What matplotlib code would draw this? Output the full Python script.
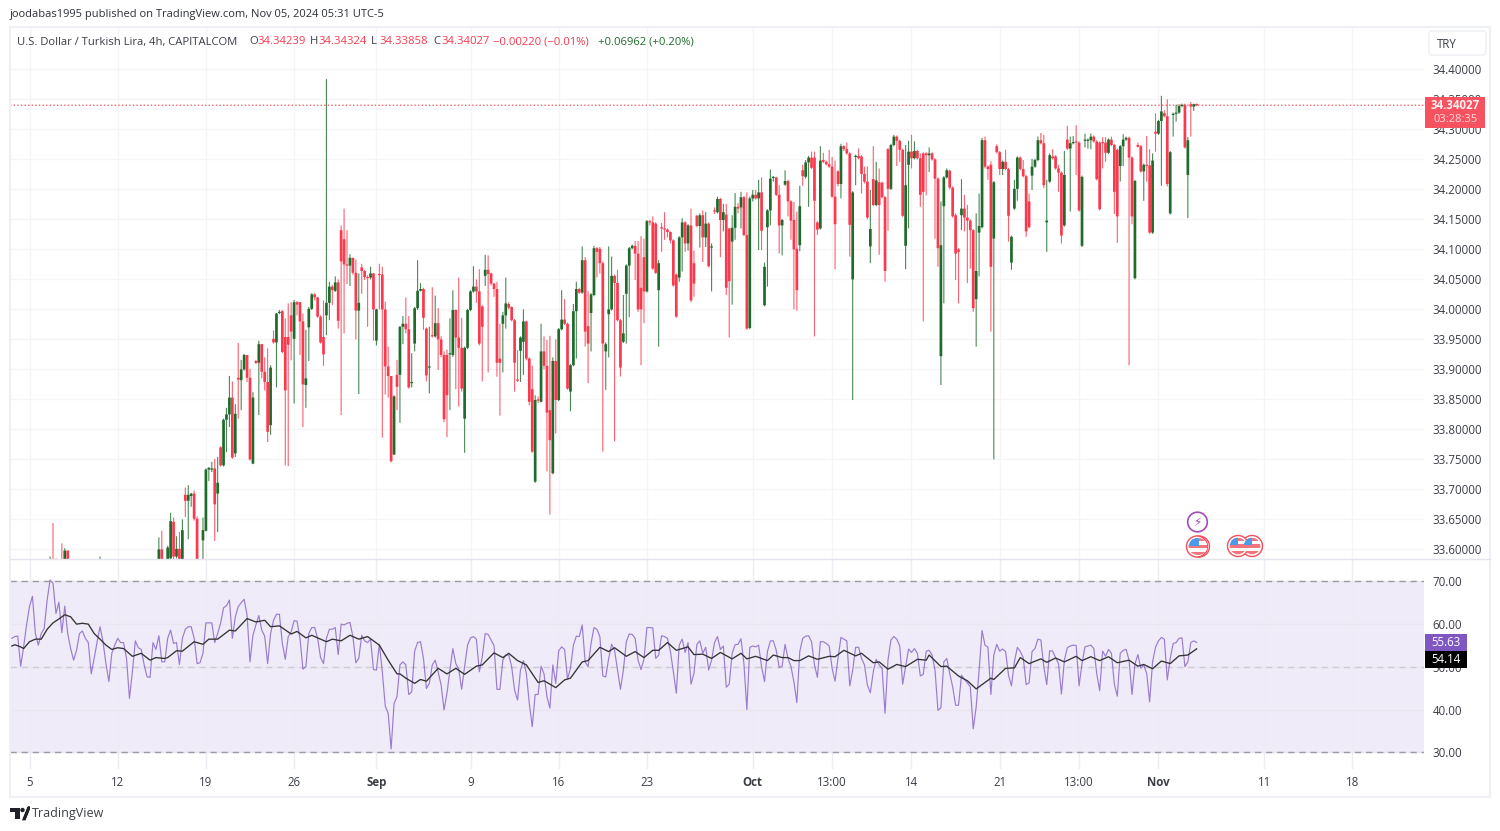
import numpy as np
import matplotlib
matplotlib.use("Agg")
import matplotlib.pyplot as plt
from matplotlib.patches import Circle, Rectangle, FancyBboxPatch, Polygon

plt.rcParams['font.family'] = ['Open Sans', 'DejaVu Sans']

W, H = 1500, 831
UP, DOWN = '#1E6B2B', '#F9394E'
RSI_C, MA_C = '#7E57C2', '#333333'

# wick-only bars at the very bottom of the price pane (bodies under the pane)
early_idx = [13, 14, 15, 17, 18, 19, 30]
early_open = [33.57, 33.575, 33.575, 33.575, 33.575, 33.598, 33.57]
early_close = [33.575, 33.57, 33.57, 33.57, 33.598, 33.57, 33.575]
early_high = [33.588, 33.644, 33.585, 33.610, 33.602, 33.598, 33.588]
early_low = [33.56, 33.56, 33.56, 33.56, 33.56, 33.56, 33.56]

first_bar = 50
opens = [
33.57,33.6,33.57,33.58,33.585,33.646,33.588,33.601,33.58,33.691,
33.681,33.689,33.693,33.651,33.57,33.615,33.631,33.733,33.733,33.735,
33.693,33.77,33.74,33.816,33.825,33.853,33.76,33.886,33.882,33.9,
33.924,33.886,33.743,33.914,33.911,33.942,33.896,33.879,33.807,33.951,
33.945,33.994,33.997,33.954,33.954,33.99,33.951,34.012,34.012,33.98,
33.874,33.97,34.001,34.025,34.02,33.988,33.954,33.99,34.011,34.038,
34.031,34.045,34.132,34.117,34.075,34.073,34.086,34.061,33.998,34.07,
34.064,34.054,34.053,34.06,33.948,34.058,34.058,34.0,33.905,33.889,
33.758,33.891,33.891,33.971,33.976,33.967,33.877,33.943,34.002,34.031,
34.034,33.968,33.903,33.956,33.955,33.977,33.95,33.924,33.924,33.925,
33.924,33.999,33.953,33.936,33.818,33.936,33.999,34.03,34.038,34.03,
34.005,34.056,34.066,34.06,34.043,34.034,33.918,33.976,33.99,34.009,
34.004,33.982,33.882,33.931,33.946,33.98,33.918,33.867,33.713,33.849,
33.846,33.93,33.906,33.832,33.727,33.914,33.849,33.967,33.983,33.976,
33.863,33.907,33.997,34.034,34.028,34.082,33.972,33.994,34.024,34.102,
34.101,34.077,33.93,33.992,34.0,34.056,34.044,33.982,33.946,34.026,
34.073,34.102,34.106,34.093,34.036,34.087,34.03,34.147,34.145,34.143,
34.032,34.137,34.135,34.133,34.129,34.115,34.058,34.053,34.12,34.145,
34.11,34.14,34.077,34.156,34.139,34.157,34.12,34.143,34.103,34.164,
34.162,34.184,34.149,34.158,34.135,34.113,34.136,34.171,34.17,34.187,
34.124,33.969,34.185,34.191,34.185,34.195,34.007,34.137,34.165,34.219,
34.22,34.191,34.14,34.208,34.214,34.18,34.149,34.101,34.107,34.232,
34.221,34.245,34.253,34.253,34.145,34.135,34.249,34.246,34.242,34.238,
34.188,34.23,34.209,34.272,34.267,34.26,34.05,34.254,34.256,34.255,
34.226,34.213,34.105,34.217,34.174,34.212,34.211,34.187,34.267,34.201,
34.274,34.288,34.281,34.266,34.106,34.241,34.263,34.252,34.264,34.252,
34.26,34.26,34.257,34.26,34.25,34.218,33.922,34.172,34.22,34.231,
34.203,34.157,34.1,34.157,34.168,34.153,34.148,34.132,34.017,34.128,
34.137,34.282,34.238,34.241,34.118,34.272,34.262,34.234,34.246,34.234,
34.078,34.168,34.201,34.253,34.234,34.222,34.18,34.223,34.238,34.249,
34.282,34.277,34.145,34.213,34.255,34.255,34.235,34.228,34.14,34.283,
34.268,34.277,34.279,34.278,34.106,34.281,34.281,34.282,34.288,34.28,
34.278,34.278,34.278,34.261,34.283,34.274,34.266,34.239,34.272,34.283,
34.286,34.253,34.052,34.274,34.272,34.23,34.24,34.24,34.128,34.296,
34.293,34.314,34.327,34.322,34.16,34.324,34.326,34.328,34.339,34.341,
34.224,34.342,34.338,34.34239]
highs = [
33.62,33.631,33.58,33.606,33.661,33.653,33.622,33.629,33.65,33.703,
33.707,33.694,33.698,33.655,33.575,33.653,33.735,33.737,33.746,33.751,
33.754,33.772,33.818,33.836,33.889,33.88,33.842,33.944,33.916,33.926,
33.924,33.901,33.862,33.916,33.948,33.942,33.92,33.935,33.907,33.965,
33.994,33.999,33.999,33.985,34.01,34.012,34.016,34.014,34.012,33.993,
33.966,34.004,34.027,34.027,34.021,33.99,34.015,34.384,34.046,34.041,
34.055,34.05,34.14,34.168,34.132,34.092,34.086,34.083,34.06,34.076,
34.066,34.057,34.071,34.061,34.001,34.076,34.071,34.013,33.938,33.889,
33.857,33.916,33.972,33.989,34.02,33.989,33.927,34.004,34.082,34.044,
34.036,33.97,33.971,34.037,34.023,34.002,33.955,33.93,33.933,33.985,
34.032,34.0,34.053,33.986,33.938,34.001,34.032,34.072,34.05,34.067,
34.007,34.091,34.09,34.061,34.044,34.046,33.976,33.996,34.053,34.012,
34.005,33.984,33.932,33.955,34.0,33.981,33.92,33.906,33.857,33.855,
33.976,33.955,33.949,33.956,33.92,33.95,33.969,34.032,34.017,33.978,
33.909,34.009,34.046,34.036,34.105,34.087,34.03,34.027,34.106,34.104,
34.104,34.08,33.945,34.105,34.088,34.058,34.066,33.984,34.024,34.075,
34.104,34.108,34.114,34.114,34.122,34.118,34.149,34.149,34.155,34.145,
34.082,34.144,34.162,34.135,34.13,34.117,34.06,34.122,34.152,34.147,
34.142,34.168,34.098,34.158,34.16,34.165,34.162,34.145,34.11,34.17,
34.188,34.186,34.176,34.176,34.135,34.157,34.194,34.177,34.196,34.189,
34.195,34.188,34.199,34.199,34.216,34.22,34.078,34.167,34.233,34.222,
34.221,34.207,34.151,34.232,34.216,34.182,34.179,34.163,34.206,34.241,
34.249,34.256,34.263,34.263,34.147,34.272,34.261,34.248,34.266,34.254,
34.248,34.232,34.276,34.274,34.278,34.262,34.197,34.258,34.268,34.257,
34.238,34.238,34.199,34.272,34.246,34.235,34.213,34.189,34.269,34.276,
34.291,34.29,34.283,34.268,34.274,34.281,34.291,34.28,34.266,34.26,
34.262,34.262,34.27,34.262,34.252,34.22,34.18,34.222,34.235,34.233,
34.205,34.16,34.102,34.217,34.191,34.174,34.15,34.134,34.16,34.193,
34.286,34.288,34.24,34.247,34.214,34.275,34.264,34.248,34.266,34.236,
34.123,34.216,34.255,34.255,34.249,34.224,34.193,34.251,34.251,34.288,
34.294,34.291,34.216,34.26,34.267,34.257,34.241,34.23,34.264,34.306,
34.288,34.289,34.307,34.28,34.223,34.293,34.285,34.293,34.29,34.282,
34.28,34.287,34.287,34.285,34.288,34.276,34.268,34.274,34.292,34.288,
34.288,34.255,34.216,34.278,34.274,34.243,34.289,34.267,34.26,34.327,
34.316,34.356,34.332,34.35,34.264,34.328,34.341,34.342,34.343,34.343,
34.287,34.346,34.343,34.34324]
lows = [
33.56,33.56,33.55,33.56,33.58,33.58,33.585,33.57,33.57,33.654,
33.617,33.671,33.648,33.56,33.55,33.58,33.63,33.714,33.729,33.614,
33.629,33.738,33.738,33.762,33.804,33.751,33.754,33.818,33.832,33.898,
33.879,33.748,33.742,33.909,33.824,33.885,33.865,33.779,33.791,33.943,
33.87,33.992,33.927,33.74,33.739,33.915,33.843,33.99,33.924,33.804,
33.836,33.914,33.999,34.015,33.986,33.943,33.906,33.957,33.982,34.007,
34.029,33.968,33.824,33.96,34.042,34.039,34.058,33.95,33.859,34.026,
34.049,33.971,34.05,33.948,33.94,34.0,33.786,33.858,33.853,33.745,
33.757,33.832,33.811,33.942,33.96,33.868,33.87,33.93,33.999,34.03,
33.966,33.88,33.86,33.953,33.953,33.899,33.92,33.812,33.787,33.832,
33.921,33.867,33.838,33.863,33.761,33.934,33.997,34.028,34.011,33.94,
33.88,34.039,33.895,34.04,34.021,33.888,33.823,33.895,33.968,34.0,
33.98,33.863,33.879,33.879,33.891,33.915,33.84,33.761,33.711,33.844,
33.845,33.9,33.73,33.658,33.725,33.793,33.847,33.965,33.974,33.866,
33.83,33.905,33.918,34.026,34.026,33.938,33.877,33.93,34.022,34.053,
34.06,33.763,33.866,33.92,33.998,33.78,33.98,33.888,33.944,33.943,
33.987,34.1,34.049,33.996,33.907,33.977,34.028,34.14,34.066,34.059,
33.938,34.096,34.116,34.12,34.11,34.038,33.986,34.046,34.063,34.096,
34.098,34.012,34.021,34.137,34.103,34.079,34.104,34.07,34.03,34.159,
34.16,34.087,34.13,34.024,33.953,34.008,34.116,34.16,34.135,34.122,
33.966,33.967,34.18,34.183,34.099,34.099,34.005,34.038,34.14,34.213,
34.189,34.093,34.09,34.206,34.155,34.116,34.0,33.998,34.097,34.206,
34.218,34.171,34.234,33.955,34.124,34.133,34.244,34.24,34.236,34.186,
34.067,34.205,34.185,34.264,34.258,34.088,33.849,34.207,34.25,34.193,
34.21,34.15,34.077,34.172,34.172,34.091,34.185,34.046,34.131,34.199,
34.272,34.239,34.246,34.154,34.067,34.135,34.235,34.25,34.25,34.171,
33.98,34.19,34.229,34.248,34.118,34.071,33.874,34.01,34.218,34.2,
34.153,34.049,34.01,34.132,34.13,34.044,34.068,33.996,33.938,34.055,
34.135,34.235,34.216,33.963,33.75,34.26,34.224,34.224,34.232,34.113,
34.066,34.166,34.181,34.232,34.22,34.121,34.135,34.199,34.236,34.247,
34.275,34.202,34.096,34.211,34.25,34.233,34.196,34.11,34.138,34.266,
34.163,34.275,34.224,34.163,34.104,34.27,34.268,34.267,34.278,34.215,
34.165,34.235,34.246,34.259,34.272,34.159,34.111,34.213,34.239,34.281,
33.907,34.142,34.05,34.27,34.228,34.181,34.213,34.126,34.126,34.263,
34.291,34.206,34.32,34.205,34.158,34.288,34.313,34.326,34.337,34.268,
34.152,34.288,34.331,34.33858]
closes = [
33.6,33.57,33.56,33.603,33.647,33.588,33.601,33.58,33.632,33.681,
33.691,33.693,33.651,33.57,33.56,33.632,33.733,33.736,33.734,33.675,
33.711,33.74,33.816,33.825,33.853,33.753,33.826,33.883,33.9,33.924,
33.886,33.75,33.853,33.911,33.942,33.896,33.879,33.796,33.903,33.945,
33.993,33.996,33.929,33.865,33.941,33.963,34.012,34.008,33.98,33.875,
33.885,34.001,34.025,34.02,33.988,33.945,33.925,34.011,34.038,34.032,
34.045,33.981,34.08,34.075,34.073,34.086,34.061,33.998,34.011,34.064,
34.054,34.052,34.06,34.0,34.0,34.057,34.0,33.905,33.889,33.747,
33.855,33.871,33.971,33.976,33.967,33.87,33.878,34.002,34.031,34.034,
33.986,33.89,33.904,33.955,33.977,33.95,33.924,33.817,33.857,33.926,
33.999,33.953,33.936,33.868,33.936,33.999,34.03,34.038,34.03,33.943,
33.971,34.066,34.059,34.043,34.034,33.911,33.911,33.99,34.01,34.003,
33.982,33.911,33.881,33.953,33.98,33.918,33.846,33.763,33.849,33.848,
33.93,33.906,33.828,33.782,33.914,33.849,33.967,33.983,33.976,33.868,
33.907,33.997,34.034,34.028,34.082,33.963,33.943,34.025,34.102,34.096,
34.077,33.943,33.942,34.0,34.056,34.044,33.982,33.903,33.96,34.073,
34.102,34.106,34.093,34.0,34.0,34.03,34.147,34.145,34.068,34.061,
34.077,34.135,34.133,34.129,34.115,34.04,33.988,34.12,34.145,34.11,
34.14,34.015,34.043,34.139,34.157,34.12,34.143,34.072,34.104,34.163,
34.184,34.149,34.162,34.036,34.047,34.136,34.171,34.168,34.187,34.124,
33.968,34.185,34.191,34.185,34.195,34.131,34.071,34.165,34.218,34.221,
34.191,34.14,34.149,34.214,34.18,34.148,34.1,34.032,34.172,34.222,
34.245,34.253,34.236,34.181,34.133,34.248,34.246,34.242,34.238,34.188,
34.142,34.209,34.272,34.267,34.26,34.141,34.195,34.256,34.252,34.226,
34.213,34.153,34.134,34.174,34.215,34.174,34.187,34.064,34.201,34.274,
34.288,34.281,34.266,34.156,34.207,34.263,34.252,34.264,34.252,34.191,
34.196,34.257,34.26,34.25,34.218,34.102,34.107,34.22,34.232,34.203,
34.155,34.093,34.096,34.168,34.153,34.148,34.132,34.002,34.064,34.139,
34.282,34.238,34.234,34.071,34.212,34.262,34.234,34.246,34.234,34.156,
34.121,34.201,34.253,34.234,34.222,34.13,34.137,34.238,34.249,34.282,
34.277,34.207,34.148,34.257,34.252,34.235,34.228,34.123,34.224,34.268,
34.277,34.279,34.278,34.165,34.221,34.283,34.283,34.288,34.28,34.217,
34.167,34.277,34.261,34.283,34.274,34.196,34.155,34.272,34.283,34.286,
34.253,34.155,34.214,34.271,34.23,34.241,34.239,34.128,34.248,34.293,
34.314,34.33,34.322,34.209,34.262,34.326,34.327,34.339,34.341,34.27,
34.282,34.338,34.342,34.34027]

rsi = [
56.6,57.0,57.1,50.1,54.6,59.7,64.0,66.4,57.7,55.0,
57.7,58.9,65.5,70.2,69.4,62.4,65.0,57.9,64.1,57.7,
54.2,51.5,53.8,57.7,58.3,56.6,55.6,48.3,51.9,55.8,
59.3,55.8,50.7,46.5,53.1,55.0,56.6,55.6,55.6,51.9,
42.6,48.8,56.0,54.4,54.0,50.4,47.6,47.5,55.6,54.0,
57.2,51.1,51.1,56.6,58.5,55.4,55.6,50.5,56.6,58.7,
59.3,59.3,56.6,50.7,50.9,53.1,60.2,60.2,60.2,55.6,
57.7,60.1,63.7,64.2,65.5,56.6,61.6,64.0,64.9,65.7,
62.0,51.1,57.3,59.7,61.9,58.5,57.1,50.7,57.7,60.8,
62.2,62.2,55.4,51.7,57.0,58.1,60.7,60.6,56.6,49.4,
50.0,57.7,59.1,59.1,56.6,52.1,50.7,56.6,58.7,58.7,
59.1,52.8,59.9,59.7,60.1,60.3,57.0,50.9,51.9,57.3,
56.0,55.6,56.4,49.3,49.2,55.2,48.8,40.8,39.1,30.8,
41.4,43.0,50.4,51.1,50.4,43.5,44.1,53.6,55.6,55.8,
51.9,44.9,46.1,50.4,51.5,48.8,45.7,39.9,43.8,49.2,
54.2,50.7,49.4,44.7,50.0,55.0,56.7,57.0,56.4,48.8,
52.3,57.7,57.5,56.2,54.9,44.7,44.7,51.5,52.7,52.7,
50.0,44.5,42.2,49.2,51.4,48.4,41.4,36.0,43.5,43.5,
50.1,48.3,43.0,40.3,50.4,46.1,53.7,54.6,54.0,47.1,
49.6,55.0,57.1,57.0,59.7,51.1,50.0,55.4,59.1,58.7,
57.0,47.8,47.6,51.9,55.2,53.8,49.2,44.7,49.2,55.8,
57.6,57.5,56.6,51.5,49.3,51.7,59.1,59.1,59.0,51.9,
52.7,57.2,57.0,56.6,53.5,48.8,43.8,55.0,56.4,53.3,
55.6,45.9,48.4,55.2,56.0,53.1,54.5,49.2,51.5,55.6,
57.0,54.0,54.8,45.2,45.9,53.1,55.1,55.2,56.5,50.7,
40.0,54.5,54.8,54.6,55.0,50.0,46.5,53.5,56.0,56.0,
53.8,49.8,50.1,55.2,51.9,50.0,46.5,41.6,53.5,56.6,
57.1,57.2,55.8,50.4,47.5,55.8,55.8,55.4,54.8,49.6,
46.6,51.9,56.8,56.4,56.0,45.5,49.2,54.5,54.5,51.9,
50.4,45.7,43.9,48.8,51.7,50.4,49.6,39.1,51.5,56.2,
57.0,56.4,54.8,45.9,50.0,54.1,53.3,54.2,53.1,47.8,
48.2,53.6,53.8,52.7,49.2,39.8,40.4,51.1,51.9,48.4,
45.3,41.0,41.0,48.0,47.0,46.2,45.3,35.5,40.6,49.2,
58.4,55.0,54.5,43.5,52.7,55.2,53.6,54.1,53.5,48.0,
45.5,51.1,54.5,53.5,52.1,45.8,46.2,53.5,54.2,56.4,
56.2,50.0,45.8,53.7,53.6,52.1,50.7,43.6,51.5,54.4,
54.8,55.0,54.9,45.5,50.7,54.6,54.8,55.0,54.2,48.4,
44.4,53.6,52.4,54.0,53.1,45.9,43.1,53.1,53.8,54.0,
51.5,43.5,50.6,52.8,49.6,50.4,48.4,41.8,51.1,54.5,
56.0,56.8,56.4,46.9,51.9,55.4,55.6,56.6,56.7,50.0,
51.1,55.6,56.0,55.63]

ma_idx = [
0,1,3,4,6,8,10,12,14,16,18,20,22,24,26,28,30,32,34,36,38,41,44,47,49,52,53,56,58,62,
65,67,70,74,76,80,83,86,88,91,95,97,100,102,107,109,112,115,118,121,125,128,131,132,
134,137,139,141,145,148,151,154,158,160,164,167,169,172,175,179,181,185,188,190,194,196,200,203,205,
209,212,215,218,220,223,226,230,232,235,238,241,245,248,250,253,257,259,262,264,266,268,
271,274,278,280,283,287,289,293,295,298,301,304,308,311,312,316,318,322,325,328,333,334,338,341,343,
346,350,352,355,358,362,364,367,370,373,376,380,383,385,388,391,394,397,400,403]
ma_val = [
54.8,55.1,54.6,54.2,55.8,56.4,56.4,58.7,60.2,61.1,62.1,61.6,59.9,60.1,59.9,57.7,56.4,55.0,54.0,54.4,54.2,52.4,53.1,51.5,52.1,51.9,52.1,53.7,53.6,55.8,
55.2,56.4,56.4,58.5,58.3,61.2,60.4,60.8,59.3,59.5,57.6,58.2,56.7,57.3,55.8,56.4,56.0,57.3,56.4,57.0,55.0,51.5,48.3,48.3,
47.3,46.1,47.0,46.6,49.6,48.3,49.6,48.2,50.1,50.4,53.2,52.1,53.1,51.4,50.4,46.3,46.7,45.1,46.9,47.3,51.1,51.4,54.5,53.5,54.4,
52.4,53.5,52.1,53.8,53.8,55.6,53.8,54.6,52.8,52.9,51.9,53.3,51.8,53.1,51.8,52.4,51.4,52.7,52.1,52.1,51.4,51.4,
52.5,51.7,52.4,52.3,53.8,52.5,53.1,50.9,51.1,49.4,50.5,50.0,51.7,51.5,52.7,50.0,50.1,47.8,46.7,44.8,47.3,47.0,49.6,49.7,52.1,
50.7,51.8,51.0,52.0,51.1,52.4,51.4,52.3,51.4,52.3,50.9,51.5,50.1,50.5,49.5,51.3,50.7,52.5,52.7,54.14]

last_price = 34.34027
price_ticks = [33.60,33.65,33.70,33.75,33.80,33.85,33.90,33.95,34.00,34.05,34.10,34.15,
               34.20,34.25,34.30,34.35,34.40]
rsi_ticks = [30, 40, 50, 60, 70]
time_idx = [6, 36, 66, 96, 124, 156, 186, 216, 252, 279, 306, 336, 363, 390, 426, 456]
time_labels = ['5','12','19','26','Sep','9','16','23','Oct','13:00','14','21','13:00','Nov','11','18']
month_labels = {'Sep', 'Oct', 'Nov'}

assert len(opens) == len(highs) == len(lows) == len(closes) == 354
assert len(rsi) == 404 and len(ma_idx) == len(ma_val)

fig = plt.figure(figsize=(W/100, H/100), dpi=100, facecolor='white')

def px_axes(x0, y0, x1, y1, **kw):
    return fig.add_axes([x0/W, 1-y1/H, (x1-x0)/W, (y1-y0)/H], **kw)

XLIM = (-0.633, 480.32)
GRID = '#F5F5F8'
TXT = '#3B3E47'

ax = px_axes(10, 27, 1424, 558.5)
ar = px_axes(10, 558.5, 1424, 769)

def candles(axis, idx, o, h, l, c):
    idx = np.asarray(idx, float); o = np.asarray(o); h = np.asarray(h)
    l = np.asarray(l); c = np.asarray(c)
    up = c >= o
    cols = np.where(up, UP, DOWN)
    wicks = axis.vlines(idx, l, h, colors=cols, linewidth=0.8, alpha=0.8, zorder=3)
    wicks.set_snap(False)
    axis.bar(idx, np.maximum(np.abs(c-o), 0.002), bottom=np.minimum(o, c), width=0.92,
             color=cols, linewidth=0, zorder=4, snap=False)

bars = np.arange(first_bar, first_bar+len(opens))
candles(ax, early_idx, early_open, early_high, early_low, early_close)
candles(ax, bars, opens, highs, lows, closes)
dot = ax.axhline(last_price, color='#F9606D', lw=1.0, ls=(0, (1, 1.6)), zorder=2)
dot.set_snap(False)

ax.set_xlim(*XLIM)
ax.set_ylim(33.5848, 34.4707)
ax.set_yticks(price_ticks)
ax.set_yticklabels([f'{t:.5f}' for t in price_ticks])
ax.set_xticks(time_idx)
ax.tick_params(axis='x', length=0, labelbottom=False)
ax.yaxis.tick_right()
ax.tick_params(axis='y', length=0, pad=6, labelsize=8.3, labelcolor=TXT)
ax.grid(True, color=GRID, lw=1.0, zorder=0)
ax.set_axisbelow(True)
for s in ax.spines.values():
    s.set_visible(False)

ar.axhspan(30, 70, color='#EFEBF8', lw=0, zorder=0)
ar.plot(np.arange(len(rsi)), rsi, color=RSI_C, lw=0.85, alpha=0.75, zorder=4)
ar.plot(ma_idx, ma_val, color=MA_C, lw=0.95, zorder=5)
for lv, col in ((70, '#9A9BA3'), (30, '#9A9BA3'), (50, '#CDCBD3')):
    ar.axhline(lv, color=col, lw=1.0, ls=(0, (4.5, 3.5)), zorder=3)
ar.set_xlim(*XLIM)
ar.set_ylim(26.13, 75.2)
ar.set_yticks(rsi_ticks)
ar.set_yticklabels([f'{t:.2f}' for t in rsi_ticks])
ar.yaxis.tick_right()
ar.tick_params(axis='y', length=0, pad=6, labelsize=8.3, labelcolor=TXT)
ar.set_xticks(time_idx)
ar.set_xticklabels(time_labels)
ar.tick_params(axis='x', length=0, pad=5, labelsize=8.3, labelcolor=TXT)
for lab in ar.get_xticklabels():
    if lab.get_text() in month_labels:
        lab.set_fontweight('bold')
ar.grid(True, axis='x', color='#EDEBF3', lw=1.0, zorder=1)
ar.grid(True, axis='y', color='#E9E6F1', lw=1.0, zorder=1)
ar.set_axisbelow(True)
for s in ar.spines.values():
    s.set_visible(False)

# overlay in figure pixels for the TradingView chrome
ov = fig.add_axes([0, 0, 1, 1], facecolor='none', zorder=10)
ov.set_xlim(0, W); ov.set_ylim(H, 0); ov.axis('off')

FR = '#EEF0F6'
ov.add_patch(Rectangle((10, 27), 1480, 770, fill=False, ec=FR, lw=1.5))
ov.plot([10, 1490], [558.5, 558.5], color='#E3E5EC', lw=1.0)

ov.text(10, 15, 'joodabas1995 published on TradingView.com, Nov 05, 2024 05:31 UTC-5',
        fontsize=8.05, color='#2E3038', va='center')

hdr = [(17, 'U.S. Dollar / Turkish Lira, 4h, CAPITALCOM', TXT), (249, 'O', TXT), (257, '34.34239', DOWN),
       (310, 'H', TXT), (318, '34.34324', DOWN), (371, 'L', TXT), (379, '34.33858', DOWN),
       (433, 'C', TXT), (441, '34.34027', DOWN), (493, '−0.00220 (−0.01%)', DOWN),
       (598, '+0.06962 (+0.20%)', UP)]
for x, s, c in hdr:
    ov.text(x, 42, s, fontsize=8.15, color=c, va='center')

ov.add_patch(FancyBboxPatch((1430, 32), 55, 22, boxstyle='round,pad=1,rounding_size=3',
                            fc='white', ec='#ECEEF3', lw=1))
ov.text(1437, 44.5, 'TRY', fontsize=8.3, color=TXT, va='center')

ov.add_patch(Rectangle((1425, 97), 60, 30.5, fc='#F7525F', ec='none'))
ov.text(1455.5, 105.5, '34.34027', fontsize=8.3, fontweight='bold', color='#FFF1F2', ha='center', va='center')
ov.text(1455.5, 119, '03:28:35', fontsize=8.0, color='#FFDDE0', ha='center', va='center')

ov.add_patch(Rectangle((1425, 634), 42, 17, fc=RSI_C, ec='none'))
ov.text(1446, 642.7, '55.63', fontsize=8.3, color='white', ha='center', va='center')
ov.add_patch(Rectangle((1425, 651), 42, 17, fc='black', ec='none'))
ov.text(1446, 659.7, '54.14', fontsize=8.3, color='white', ha='center', va='center')

def flag(cx, cy):
    ov.add_patch(Circle((cx, cy), 10.5, fc='white', ec='#F4505C', lw=1.0, zorder=5))
    clip = Circle((cx, cy), 8.3, transform=ov.transData)
    for k, col in enumerate(['#F2757D', 'white', '#F2757D', 'white', '#F2757D']):
        r = ov.add_patch(Rectangle((cx-9, cy-8.5+k*3.4), 18, 3.4, fc=col, ec='none', zorder=6))
        r.set_clip_path(clip)
    r = ov.add_patch(Rectangle((cx-9, cy-9), 9, 8, fc='#4A9BEA', ec='none', zorder=7))
    r.set_clip_path(clip)

flag(1199, 546.5); flag(1197, 546.5)
flag(1252, 546); flag(1238, 546)
ov.add_patch(Circle((1197.5, 522), 9.8, fc='white', ec='#A748BE', lw=1.2, zorder=5))
ov.text(1197.5, 522.3, '\u26A1', fontsize=8.5, color='#A748BE', ha='center', va='center',
        family=['DejaVu Sans'], zorder=6)

# TradingView logo
LOGO = '#1F2126'
ov.add_patch(Polygon([(10, 808), (20, 808), (20, 819), (15, 819), (15, 812), (10, 812)], fc=LOGO, ec='none'))
ov.add_patch(Circle((22.5, 810), 2.2, fc=LOGO, ec='none'))
ov.add_patch(Polygon([(24, 819), (28.5, 808), (30, 808), (30, 808), (29, 808), (24.5, 819)], fc=LOGO, ec=LOGO, lw=2))
ov.text(32, 814, 'TradingView', fontsize=9.0, color='#3C3F46', va='center')

fig.savefig('out.png', dpi=100, facecolor='white')
